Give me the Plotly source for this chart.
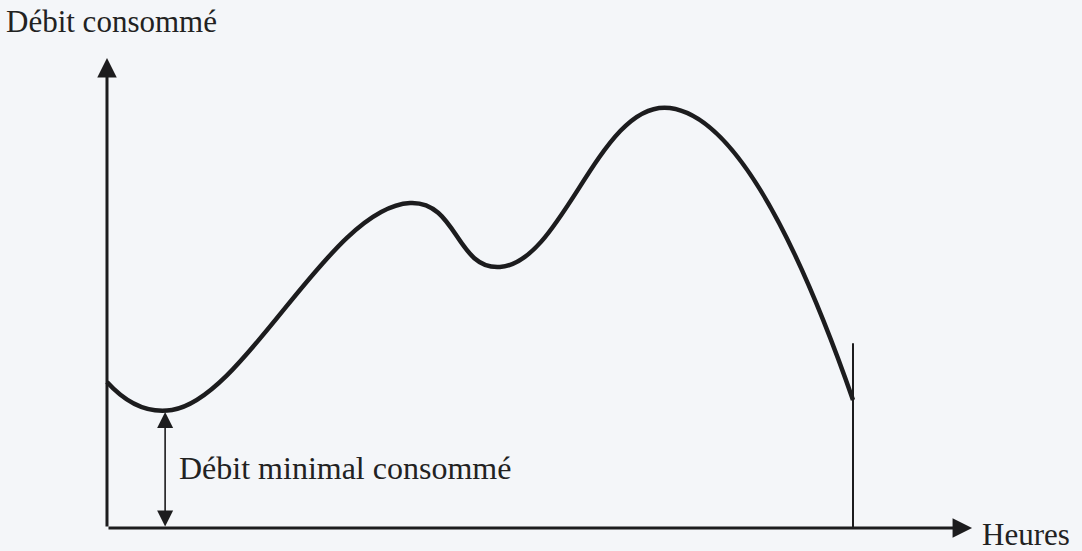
import plotly.graph_objects as go

# Data (hours vs consumed flow, schematic)
heures = [0.0, 2.09, 9.75, 12.64, 18.11, 24.0]
debit = [34.76, 28.10, 77.38, 62.14, 100.0, 30.48]

debit_min = 27.6       # minimal flow (double arrow)
heure_min = 1.87
fin_heure = 24.0
fin_ligne = 44.0
x_axis_end = 27.83
y_axis_end = 111.9

ink = "#1c1c1e"
bg = "#f4f6f9"

fig = go.Figure()
fig.add_trace(go.Scatter(x=heures, y=debit, mode="lines",
                         line=dict(color=ink, width=4.5, shape="spline", smoothing=1.3),
                         hoverinfo="skip", showlegend=False))

# vertical line at end of curve
fig.add_trace(go.Scatter(x=[fin_heure, fin_heure], y=[0, fin_ligne], mode="lines",
                         line=dict(color=ink, width=2), hoverinfo="skip", showlegend=False))

annotations = []
# x axis arrow
annotations.append(dict(x=x_axis_end, y=0, ax=0, ay=0, xref="x", yref="y", axref="x", ayref="y",
                        showarrow=True, arrowhead=2, arrowsize=1.3, arrowwidth=3, arrowcolor=ink, text=""))
# y axis arrow
annotations.append(dict(x=0, y=y_axis_end, ax=0, ay=0, xref="x", yref="y", axref="x", ayref="y",
                        showarrow=True, arrowhead=2, arrowsize=1.3, arrowwidth=3, arrowcolor=ink, text=""))
# double arrow for minimal flow
annotations.append(dict(x=heure_min, y=debit_min, ax=heure_min, ay=0, xref="x", yref="y", axref="x", ayref="y",
                        showarrow=True, arrowhead=2, startarrowhead=2, arrowside="end+start",
                        arrowsize=2, startarrowsize=2, arrowwidth=1.6, arrowcolor=ink, text=""))

font = dict(family="Liberation Serif, Times New Roman, serif", color="#222222")
annotations.append(dict(x=-3.3, y=120.5, xref="x", yref="y", text="Débit consommé", showarrow=False,
                        xanchor="left", yanchor="middle", font=dict(size=31, **font)))
annotations.append(dict(x=28.1, y=-1.6, xref="x", yref="y", text="Heures", showarrow=False,
                        xanchor="left", yanchor="middle", font=dict(size=31, **font)))
annotations.append(dict(x=2.25, y=14.3, xref="x", yref="y", text="Débit minimal consommé", showarrow=False,
                        xanchor="left", yanchor="middle", font=dict(size=32, **font)))

fig.update_layout(
    width=1082, height=551,
    margin=dict(l=0, r=0, t=0, b=0),
    paper_bgcolor=bg, plot_bgcolor=bg,
    xaxis=dict(range=[-3.442, 31.367], visible=False, fixedrange=True),
    yaxis=dict(range=[-5.476, 125.71], visible=False, fixedrange=True),
    annotations=annotations,
)

fig.write_html("out.html", config={"displayModeBar": False},
               post_script="document.body.style.margin='0';document.body.style.background='%s';" % bg)
